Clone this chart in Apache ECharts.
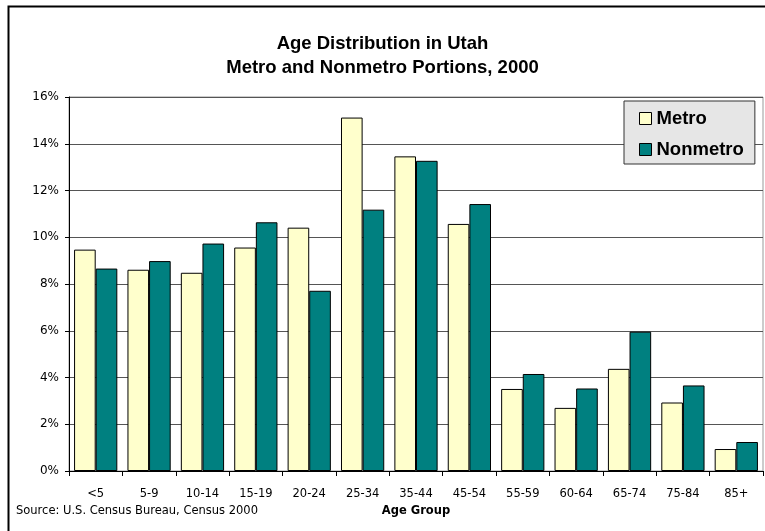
<!DOCTYPE html>
<html>
<head>
<meta charset="utf-8">
<script src="https://cdn.jsdelivr.net/npm/echarts@6/dist/echarts.min.js"></script>
<style>
    html, body { margin: 0; padding: 0; background: #fff; }
    #chart { width: 765px; height: 531px; }
</style>
</head>
<body>
<div id="chart"></div>
<script>
const ageGroups = ['<5', '5-9', '10-14', '15-19', '20-24', '25-34', '35-44', '45-54', '55-59', '60-64', '65-74', '75-84', '85+'];
const metro = [9.47, 8.61, 8.48, 9.56, 10.41, 15.12, 13.46, 10.57, 3.51, 2.70, 4.37, 2.93, 0.94];
const nonmetro = [8.66, 8.98, 9.73, 10.64, 7.71, 11.18, 13.27, 11.42, 4.15, 3.53, 5.96, 3.66, 1.24];

var chartDom = document.getElementById('chart');
var myChart = echarts.init(chartDom, null, { renderer: 'canvas' });
var option;

const labelFont = 'DejaVu Sans';

option = {
    animation: false,
    backgroundColor: '#fff',
    title: {
        text: 'Age Distribution in Utah\nMetro and Nonmetro Portions, 2000',
        left: 'center',
        top: 27,
        textStyle: {
            fontFamily: 'Liberation Sans',
            fontWeight: 'bold',
            fontSize: 18.5,
            lineHeight: 24,
            color: '#000'
        }
    },
    legend: {
        orient: 'vertical',
        left: 624,
        top: 101,
        padding: [8, 11, 5, 15],
        itemGap: 12,
        itemWidth: 12,
        itemHeight: 12,
        icon: 'rect',
        backgroundColor: '#e6e6e6',
        borderColor: '#333',
        borderWidth: 1,
        itemStyle: { borderColor: '#000', borderWidth: 1 },
        textStyle: {
            fontFamily: 'Liberation Sans',
            fontWeight: 'bold',
            fontSize: 18.5,
            color: '#000'
        },
        data: ['Metro', 'Nonmetro']
    },
    grid: {
        left: 69,
        right: 2,
        top: 97,
        bottom: 60,
        show: true,
        borderColor: '#999',
        borderWidth: 1
    },
    xAxis: {
        type: 'category',
        data: ageGroups,
        name: 'Age Group',
        nameLocation: 'middle',
        nameGap: 34,
        nameTextStyle: {
            fontFamily: labelFont,
            fontWeight: 'bold',
            fontSize: 11.5,
            color: '#000'
        },
        axisLine: { lineStyle: { color: '#000', width: 1 } },
        axisTick: { show: true, interval: 0, length: 5, lineStyle: { color: '#000' } },
        axisLabel: {
            interval: 0,
            margin: 17,
            fontFamily: labelFont,
            fontSize: 11.5,
            color: '#000'
        }
    },
    yAxis: {
        type: 'value',
        min: 0,
        max: 16,
        interval: 2,
        axisLine: { show: true, lineStyle: { color: '#000', width: 1 } },
        axisTick: { show: true, length: 4, lineStyle: { color: '#000' } },
        axisLabel: {
            formatter: '{value}%',
            margin: 10,
            fontFamily: labelFont,
            fontSize: 12,
            color: '#000'
        },
        splitLine: { lineStyle: { color: '#555', width: 1 } }
    },
    series: [
        {
            name: 'Metro',
            type: 'bar',
            data: metro,
            barGap: '0%',
            barCategoryGap: '19%',
            itemStyle: { color: '#ffffcc', borderColor: '#000', borderWidth: 1 }
        },
        {
            name: 'Nonmetro',
            type: 'bar',
            data: nonmetro,
            itemStyle: { color: '#008080', borderColor: '#000', borderWidth: 1 }
        }
    ],
    graphic: [
        {
            type: 'rect',
            left: 6,
            top: 4,
            shape: { width: 770, height: 540 },
            style: { fill: 'none', stroke: '#000', lineWidth: 2 },
            silent: true
        },
        {
            type: 'text',
            left: 16,
            top: 505,
            style: {
                text: 'Source: U.S. Census Bureau, Census 2000',
                font: '11.5px "DejaVu Sans"',
                fill: '#000'
            }
        }
    ]
};

option && myChart.setOption(option);
</script>
</body>
</html>
